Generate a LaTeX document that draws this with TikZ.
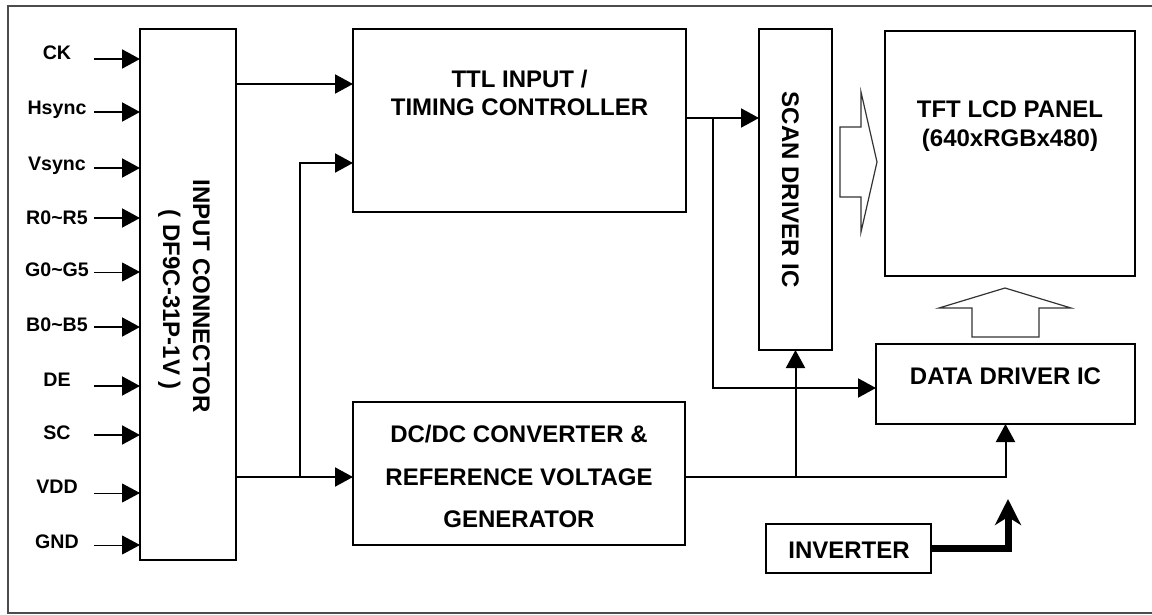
\documentclass[tikz,border=0pt]{standalone}
\usepackage{fontspec}
\setmainfont{Liberation Sans}
\usetikzlibrary{arrows.meta,calc}
\begin{document}
\begin{tikzpicture}[x=0.5pt,y=-0.5pt,
  box/.style={draw, line width=1.1pt, inner sep=0pt, outer sep=0pt},
  wire/.style={line width=1pt},
  arr/.style={wire, -{Triangle[length=9pt,width=9.5pt]}},
  boxtxt/.style={font=\bfseries\fontsize{12}{14}\selectfont, inner sep=0pt, anchor=base},
  lbl/.style={font=\bfseries\fontsize{9.8}{11}\selectfont, inner sep=0pt, anchor=base},
  hollow/.style={draw=black!80, line width=0.6pt, line join=miter},
]
\useasboundingbox (0,0) rectangle (1152,615);
\draw[black!70, line width=0.7pt] (1170,6) -- (8,6) -- (8,613) -- (1170,613);

% boxes
\node[box, minimum width=48pt, minimum height=265.5pt] (conn) at (188,294.5) {};
\node[box, minimum width=166.5pt, minimum height=91.5pt] (ttl) at (519.5,120.5) {};
\node[box, minimum width=166pt, minimum height=71.5pt] (dc) at (519,473.5) {};
\node[box, minimum width=36.5pt, minimum height=160.5pt] (scan) at (795.5,189.5) {};
\node[box, minimum width=125pt, minimum height=122.5pt] (lcd) at (1010,153.5) {};
\node[box, minimum width=129.5pt, minimum height=40pt] (data) at (1005.5,384) {};
\node[box, minimum width=82.5pt, minimum height=24.5pt] (inv) at (848.5,548.5) {};

% box texts
\node[boxtxt, rotate=-90] (connt1) at (193,296) {INPUT CONNECTOR};
\node[boxtxt, rotate=-90] (connt2) at (163,300) {( DF9C-31P-1V )};
\node[boxtxt] (ttlt1) at (519.5,88) {TTL INPUT /};
\node[boxtxt] (ttlt2) at (519.5,116) {TIMING CONTROLLER};
\node[boxtxt] (dct1) at (519,442) {DC/DC CONVERTER \&};
\node[boxtxt] (dct2) at (519,485) {REFERENCE VOLTAGE};
\node[boxtxt] (dct3) at (519,527) {GENERATOR};
\node[boxtxt, rotate=-90] (scant) at (782,190) {SCAN DRIVER IC};
\node[boxtxt] (lcdt1) at (1010,118) {TFT LCD PANEL};
\node[boxtxt] (lcdt2) at (1010,147) {(640xRGBx480)};
\node[boxtxt] (datat) at (1005.5,384) {DATA DRIVER IC};
\node[boxtxt] (invt) at (849,558) {INVERTER};

% inputs
\foreach \nm/\t/\ya/\yl/\w in {ck/CK/59/53/1pt, hs/Hsync/112/108/1pt, vs/Vsync/168/163/1pt,
  r/R0\textasciitilde R5/218/217/1pt, g/G0\textasciitilde G5/272/270/0.5pt,
  b/B0\textasciitilde B5/327/324/1pt, de/DE/386/379/1pt, sc/SC/435/432/1pt,
  vdd/VDD/493/486/0.5pt, gnd/GND/545/541/0.5pt}{
  \node[lbl] (l\nm) at (57,\yl+7) {\t};
  \coordinate (s\nm) at (94,\ya);
  \draw[line width=\w, -{Triangle[length=9pt,width=9.5pt]}] (s\nm) -- (conn.west |- s\nm);
}

% connectors
\coordinate (y84) at (0,84);
\coordinate (j1) at (300,477);
\coordinate (j1t) at (300,163);
\draw[arr] (conn.east |- y84) -- (ttl.west |- y84);
\draw[arr] (conn.east |- j1) -- (dc.west |- j1);
\draw[arr] (j1) -- (j1t) -- (ttl.west |- j1t);

\coordinate (y118) at (0,118);
\coordinate (j2) at (713,118);
\coordinate (j2b) at (713,388);
\draw[arr] (ttl.east |- y118) -- (scan.west |- y118);
\draw[arr] (j2) -- (j2b) -- (data.west |- j2b);

\draw[arr] (dc.east |- j1) -- (data.south |- j1) -- (data.south);
\draw[arr] (scan.south |- j1) -- (scan.south);

\coordinate (invtip) at (1008,499);
\draw[line width=3.5pt, line join=miter, -{Stealth[length=13pt,width=13pt,inset=4pt]}]
  (inv.east) -- (invtip |- inv.east) -- (invtip);

% hollow arrows
\draw[hollow] (840,127) -- (861,127) -- (861,92) -- (877,162) -- (861,232) -- (861,197) -- (840,197) -- cycle;
\draw[hollow] (972,337) -- (972,308) -- (939,308) -- (1005,288) -- (1071,308) -- (1039,308) -- (1039,337) -- cycle;
\end{tikzpicture}
\end{document}
